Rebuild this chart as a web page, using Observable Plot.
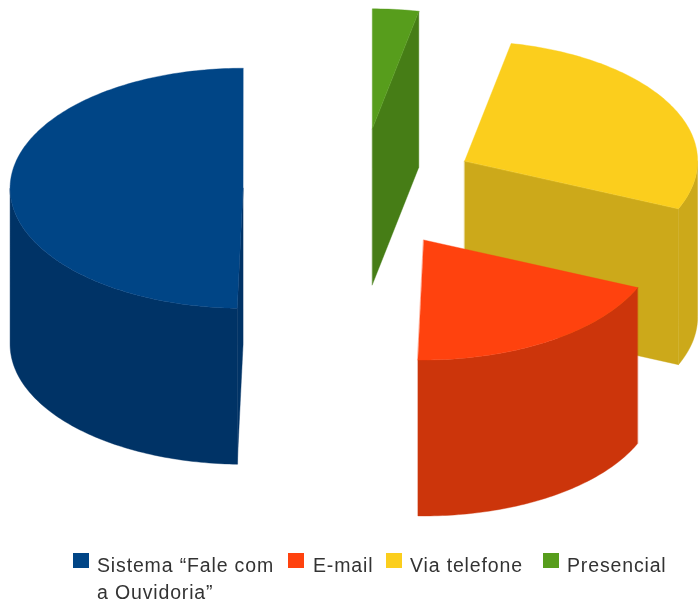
<!DOCTYPE html>
<html>
<head>
<meta charset="utf-8">
<script src="https://cdn.jsdelivr.net/npm/d3@7"></script>
<script src="https://cdn.jsdelivr.net/npm/@observablehq/plot@0.6"></script>
<style>
  html, body { margin: 0; padding: 0; background: #fff; overflow: hidden; }
  #chart svg { display: block; filter: blur(0.7px); }
  #legend { position: relative; height: 58px; overflow: hidden; font: 19.5px/27px "Liberation Sans", Arial, sans-serif; letter-spacing: 0.85px; color: #333; filter: blur(0.7px); }
  #legend .sw { position: absolute; top: 8px; width: 16px; height: 15px; }
  #legend .tx { position: absolute; top: 7px; white-space: pre-line; }
</style>
</head>
<body>
<div id="chart"></div>
<div id="legend"></div>
<script>
// Data
const categories = ["Sistema “Fale com\na Ouvidoria”", "E-mail", "Via telefone", "Presencial"];
const shares = [49.6, 18.9, 28.3, 3.2];
const topColours = ["#004586", "#ff420e", "#fbce1d", "#579d1c"];
const wallColours = ["#003366", "#cc350b", "#cca91a", "#467d16"];

// Pie construction, in plot units
const W = 698, H = 545;
const cx = 360, cy = 188.5, rx = 233, ry = 120, depth = 156, explode = 0.504;
const rad = (a) => a * Math.PI / 180;
const total = d3.sum(shares);

// Slices run counter-clockwise from twelve o'clock; angles are clockwise degrees
let cum = 0;
const slices = categories.map((name, i) => {
  const a1 = 360 - cum / total * 360;
  cum += shares[i];
  const a0 = 360 - cum / total * 360;
  const mid = rad((a0 + a1) / 2);
  return {
    i, name, a0, a1,
    ox: cx + explode * rx * Math.sin(mid),
    oy: cy - explode * ry * Math.cos(mid)
  };
});

const rim = (s, a, dy = 0) => ({
  x: s.ox + rx * Math.sin(rad(a)),
  y: s.oy - ry * Math.cos(rad(a)) + dy
});
const arc = (a, b) => d3.range(a, b, 1).concat([b]);

const polys = [];
const add = (id, key, pts) => pts.forEach((p) => polys.push({ ...p, id, key }));

// Walls, back to front
const order = [3, 2, 1, 0].map((i) => slices[i]);
order.forEach((s) => {
  const wall = "w" + s.i;
  const from = Math.max(s.a0, 90), to = Math.min(s.a1, 270);
  if (from < to) {
    const a = arc(from, to);
    add(s.i + "-outer", wall, [
      ...a.map((t) => rim(s, t)),
      ...a.slice().reverse().map((t) => rim(s, t, depth))
    ]);
  }
  // Cut faces that turn towards the viewer
  const face = (t) => add(s.i + "-cut" + t, wall, [
    { x: s.ox, y: s.oy }, rim(s, t), rim(s, t, depth), { x: s.ox, y: s.oy + depth }
  ]);
  if (Math.sin(rad(s.a1)) > 0.001) face(s.a1);
  if (Math.sin(rad(s.a0)) < -0.001) face(s.a0);
});
// Top faces
order.forEach((s) => {
  add(s.i + "-top", "t" + s.i, [
    { x: s.ox, y: s.oy },
    ...arc(s.a0, s.a1).map((t) => rim(s, t))
  ]);
});

const keys = [...categories.map((_, i) => "t" + i), ...categories.map((_, i) => "w" + i)];

const plot = Plot.plot({
  width: W, height: H,
  margin: 0,
  x: { domain: [0, W], range: [0, W], axis: null },
  y: { domain: [0, H], range: [0, H], axis: null },
  color: { type: "ordinal", domain: keys, range: [...topColours, ...wallColours] },
  marks: [
    Plot.line(polys, { x: "x", y: "y", z: "id", fill: "key", stroke: "key", strokeWidth: 0.4, curve: "linear-closed" })
  ]
});
document.getElementById("chart").append(plot);

// Legend
const swatchX = [73, 288, 386, 543];
const textX = [97, 313, 410, 567];
const legend = document.getElementById("legend");
categories.forEach((name, i) => {
  const sw = document.createElement("div");
  sw.className = "sw";
  sw.style.left = swatchX[i] + "px";
  sw.style.background = topColours[i];
  const tx = document.createElement("div");
  tx.className = "tx";
  tx.style.left = textX[i] + "px";
  tx.textContent = name;
  legend.append(sw, tx);
});
</script>
</body>
</html>
